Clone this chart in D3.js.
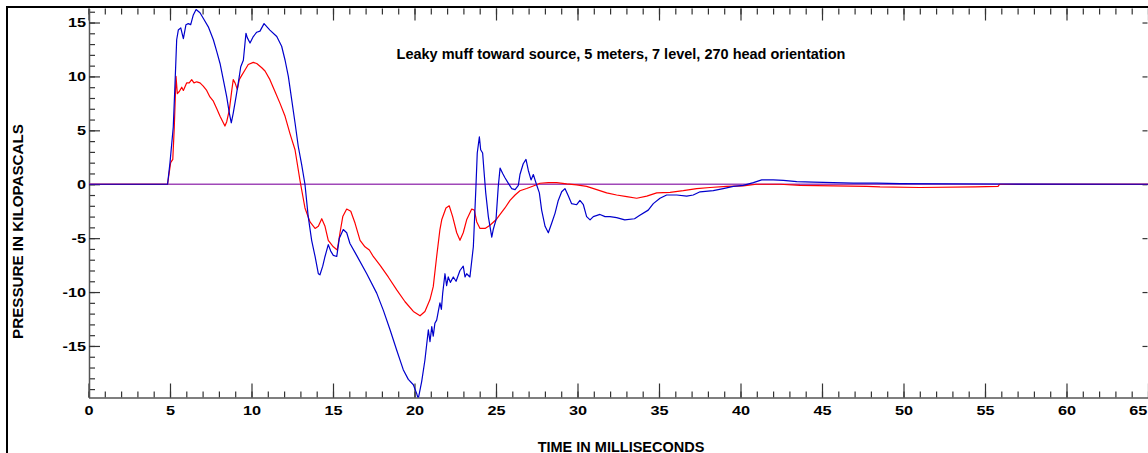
<!DOCTYPE html>
<html><head><meta charset="utf-8">
<script src="https://cdn.jsdelivr.net/npm/d3@7"></script>
<style>
body{margin:0;background:#fff}
svg{display:block}
text{font-family:"Liberation Sans",Arial,sans-serif;font-weight:bold;fill:#000}
</style>
</head><body>
<svg id="chart" width="1148" height="453"></svg>
<script>
const titleText = "Leaky muff toward source, 5 meters, 7 level, 270 head orientation";
const xLabelText = "TIME IN MILLISECONDS";
const yLabelText = "PRESSURE IN KILOPASCALS";
const xMajorTicks = [0,5,10,15,20,25,30,35,40,45,50,55,60,65];
const yMajorTicks = [-15,-10,-5,0,5,10,15];
const xDomain = [0, 65];
const yDomain = [-19.78, 16.3];

// [time ms, pressure kPa]
const blueSeries = [
[0,0],[4.85,0],[5.0,2.0],[5.2,5.3],[5.31,9.4],[5.41,13.4],[5.51,14.3],[5.66,14.5],[5.82,13.5],[5.98,14.8],
[6.12,14.9],[6.27,14.8],[6.43,15.7],[6.6,16.2],[6.84,15.9],[7.04,15.4],[7.35,14.6],[7.66,13.4],[7.87,12.3],[8.07,11.2],
[8.27,9.7],[8.48,8.1],[8.64,6.6],[8.76,5.7],[8.88,6.6],[9.05,8.1],[9.19,9.4],[9.34,10.9],[9.5,11.5],[9.66,14.0],
[9.74,13.6],[9.91,13.1],[10.11,13.7],[10.32,14.1],[10.52,14.2],[10.77,14.9],[11.13,14.3],[11.55,13.7],[11.85,12.8],[12.06,11.5],
[12.26,10.0],[12.47,7.8],[12.67,5.7],[12.87,3.5],[13.08,1.8],[13.28,0],[13.48,-3.0],[13.69,-5.2],[13.9,-6.7],[14.1,-8.3],
[14.2,-8.4],[14.37,-7.6],[14.51,-6.7],[14.71,-5.6],[14.86,-6.2],[15.02,-6.6],[15.23,-6.7],[15.39,-5.0],[15.63,-4.2],[15.84,-4.5],
[16.04,-5.5],[16.45,-6.6],[17.07,-8.3],[17.68,-10.1],[18.09,-11.7],[18.5,-13.5],[18.91,-15.4],[19.31,-17.2],[19.62,-18.1],[19.93,-18.6],
[20.13,-19.4],[20.23,-19.9],[20.44,-18.3],[20.64,-16.3],[20.85,-13.5],[20.95,-14.6],[21.06,-13.2],[21.15,-14.1],[21.25,-12.9],[21.36,-12.6],
[21.46,-11.8],[21.56,-11.0],[21.65,-11.6],[21.73,-10.1],[21.87,-8.3],[21.97,-9.4],[22.07,-8.6],[22.2,-9.1],[22.38,-8.6],[22.55,-9.0],
[22.79,-8.0],[22.99,-7.6],[23.1,-8.6],[23.2,-8.3],[23.4,-8.6],[23.61,-5.8],[23.77,-0.2],[23.85,2.9],[23.98,4.4],[24.06,3.2],
[24.18,2.9],[24.26,1.3],[24.37,-0.8],[24.53,-3.0],[24.74,-4.9],[24.83,-4.2],[25.0,-3.3],[25.14,-0.2],[25.25,1.5],[25.41,1.0],
[25.55,0.6],[25.75,0.1],[25.96,-0.4],[26.17,-0.5],[26.37,-0.1],[26.47,0.9],[26.67,1.9],[26.84,2.3],[26.98,1.3],[27.15,0.4],
[27.29,0.9],[27.5,-0.1],[27.66,-0.8],[27.8,-2.4],[28.01,-3.9],[28.21,-4.5],[28.42,-3.6],[28.62,-2.7],[28.82,-1.5],[29.03,-0.7],
[29.23,-0.4],[29.44,-1.1],[29.64,-1.8],[29.95,-1.9],[30.15,-1.5],[30.36,-1.9],[30.56,-3.0],[30.77,-3.3],[30.97,-3.0],[31.38,-2.8],
[31.69,-3.0],[31.99,-3.0],[32.4,-3.1],[32.9,-3.3],[33.5,-3.2],[33.8,-2.9],[34.34,-2.4],[34.65,-1.8],[35.06,-1.3],[35.47,-1.0],
[36.09,-1.0],[36.7,-1.1],[37.1,-1.0],[37.52,-0.7],[38.33,-0.6],[38.94,-0.4],[39.56,-0.2],[40.17,-0.1],[40.79,0.15],[41.3,0.4],
[42.01,0.4],[42.63,0.35],[43.45,0.25],[44.47,0.2],[45.69,0.15],[46.92,0.1],[48.36,0.1],[49.8,0.05],[55.9,0.02],[65,0]
];

const redSeries = [
[0,0],[4.85,0],[5.04,2.0],[5.17,2.3],[5.26,5.2],[5.37,10.0],[5.45,8.4],[5.57,8.6],[5.72,9.0],[5.82,8.7],
[6.02,9.4],[6.18,9.4],[6.33,9.7],[6.47,9.4],[6.64,9.5],[6.84,9.4],[7.04,9.1],[7.25,8.7],[7.45,8.1],[7.66,7.7],
[7.87,7.0],[8.07,6.3],[8.27,5.7],[8.37,5.4],[8.48,5.8],[8.64,6.9],[8.79,8.7],[8.88,9.7],[8.99,9.4],[9.13,8.8],
[9.25,9.7],[9.4,10.1],[9.6,10.6],[9.8,11.1],[10.11,11.3],[10.32,11.2],[10.63,10.8],[10.83,10.5],[11.13,9.7],[11.44,8.6],
[11.75,7.5],[12.06,6.3],[12.36,4.7],[12.67,3.2],[12.98,0.3],[13.28,-2.2],[13.59,-3.5],[13.9,-4.1],[14.1,-3.9],[14.31,-3.2],
[14.51,-3.9],[14.71,-5.2],[15.02,-5.8],[15.26,-6.1],[15.43,-4.5],[15.6,-3.0],[15.84,-2.3],[16.09,-2.5],[16.35,-3.6],[16.66,-5.2],
[16.96,-5.8],[17.23,-6.1],[17.47,-6.7],[17.88,-7.5],[18.39,-8.6],[18.91,-9.8],[19.42,-10.9],[19.93,-11.8],[20.34,-12.2],[20.64,-11.8],
[20.95,-10.7],[21.15,-9.5],[21.36,-6.7],[21.56,-4.2],[21.67,-3.3],[21.93,-2.2],[22.13,-2.0],[22.34,-3.0],[22.59,-4.5],[22.79,-5.2],
[22.99,-4.5],[23.2,-3.3],[23.51,-2.3],[23.67,-2.4],[23.82,-3.5],[24.02,-4.1],[24.33,-4.1],[24.63,-3.8],[25.0,-3.3],[25.25,-2.8],
[25.55,-2.2],[25.86,-1.5],[26.17,-1.0],[26.47,-0.6],[26.88,-0.4],[27.29,-0.16],[27.7,0.09],[28.21,0.15],[28.72,0.15],[29.34,0.03],
[29.95,-0.06],[30.56,-0.2],[31.18,-0.5],[31.79,-0.8],[32.4,-1.0],[33.02,-1.15],[33.63,-1.3],[34.25,-1.1],[34.86,-0.8],[35.68,-0.75],
[36.49,-0.6],[37.31,-0.4],[38.13,-0.3],[39.15,-0.2],[40.17,-0.15],[40.99,0],[42.42,0],[43.65,-0.1],[45.69,-0.15],[47.74,-0.2],
[48.56,-0.25],[51.0,-0.3],[54.4,-0.25],[55.8,-0.2],[55.9,0],[65,0]
];

const zeroSeries = [[0,0],[65,0]];

const svg = d3.select("#chart");
const plotLeft = 89, plotRight = 1147.5, plotTop = 8.5, plotBottom = 397.5;
const x = d3.scaleLinear().domain(xDomain).range([88.5, 1148]);
const y = d3.scaleLinear().domain(yDomain).range([plotBottom, plotTop]);
const fmt = d => String(d);

// outer frame
svg.append("line").attr("x1",7).attr("x2",7).attr("y1",6).attr("y2",453).attr("stroke","#000").attr("stroke-width",2);
svg.append("line").attr("x1",6).attr("x2",1148).attr("y1",7).attr("y2",7).attr("stroke","#000").attr("stroke-width",2.2);

svg.append("clipPath").attr("id","plotclip").append("rect")
  .attr("x",plotLeft).attr("y",plotTop).attr("width",1148-plotLeft).attr("height",plotBottom-plotTop);

const minorX = d3.range(0,66,1);
const minorY = d3.range(-19,17,1);

function styleAxis(g, keepDomain){
  g.selectAll(".tick line").attr("stroke","#333").attr("stroke-width",1.2);
  if(keepDomain){ g.select(".domain").attr("stroke","#555").attr("stroke-width",1.5); }
  else g.select(".domain").remove();
}

// bottom axis
const gxMinor = svg.append("g").attr("transform",`translate(0,${plotBottom})`)
  .call(d3.axisBottom(x).tickValues(minorX).tickSize(-6).tickFormat(""));
styleAxis(gxMinor,false);
const gx = svg.append("g").attr("transform",`translate(0,${plotBottom})`)
  .call(d3.axisBottom(x).tickValues(xMajorTicks).tickSize(-14).tickSizeOuter(0).tickPadding(8).tickFormat(fmt));
styleAxis(gx,true);
gx.selectAll(".tick text").attr("font-size",12.8).attr("font-family",'"Liberation Sans",Arial,sans-serif')
  .attr("font-weight","bold").attr("fill","#000").attr("transform","scale(1.27,1)");
gx.selectAll(".tick text").filter(d => d === 65).attr("text-anchor","end").attr("x",-1);

// top axis
const gtMinor = svg.append("g").attr("transform",`translate(0,${plotTop})`)
  .call(d3.axisTop(x).tickValues(minorX).tickSize(-6).tickFormat(""));
styleAxis(gtMinor,false);
const gt = svg.append("g").attr("transform",`translate(0,${plotTop})`)
  .call(d3.axisTop(x).tickValues(xMajorTicks).tickSize(-12).tickFormat(""));
styleAxis(gt,false);

// left axis
const gyMinor = svg.append("g").attr("transform",`translate(${plotLeft},0)`)
  .call(d3.axisLeft(y).tickValues(minorY).tickSize(-6).tickFormat(""));
styleAxis(gyMinor,false);
const gy = svg.append("g").attr("transform",`translate(${plotLeft},0)`)
  .call(d3.axisLeft(y).tickValues(yMajorTicks).tickSize(-11).tickSizeOuter(0).tickPadding(3).tickFormat(fmt));
styleAxis(gy,true);
gy.selectAll(".tick text").attr("font-size",12.8).attr("font-family",'"Liberation Sans",Arial,sans-serif')
  .attr("font-weight","bold").attr("fill","#000").attr("x",-3/1.27).attr("transform","scale(1.27,1)");

// right axis
const gr = svg.append("g").attr("transform",`translate(${plotRight},0)`)
  .call(d3.axisRight(y).tickValues(yMajorTicks).tickSize(-5).tickFormat(""));
styleAxis(gr,false);

// series
const line = d3.line().x(d=>x(d[0])).y(d=>y(d[1]));
const plot = svg.append("g").attr("clip-path","url(#plotclip)");
plot.append("path").datum(zeroSeries).attr("d",line).attr("fill","none").attr("stroke","#a048b8").attr("stroke-width",1.3);
plot.append("path").datum(redSeries).attr("d",line).attr("fill","none").attr("stroke","#ff0000").attr("stroke-width",1.2).attr("stroke-linejoin","round");
plot.append("path").datum(blueSeries).attr("d",line).attr("fill","none").attr("stroke","#0000cc").attr("stroke-width",1.2).attr("stroke-linejoin","round");

// texts
svg.append("text").attr("x",621).attr("y",59.3).attr("text-anchor","middle").attr("font-size",14.5).text(titleText);
svg.append("text").attr("x",621).attr("y",451.5).attr("text-anchor","middle").attr("font-size",14.5).text(xLabelText);
svg.append("text").attr("transform","translate(22.7,231.5) rotate(-90)").attr("text-anchor","middle").attr("font-size",15.2).text(yLabelText);
</script>
</body></html>
